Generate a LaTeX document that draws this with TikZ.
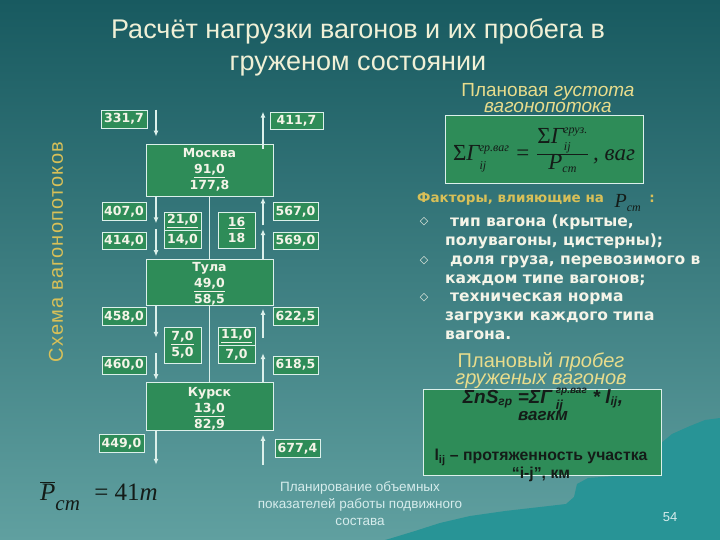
\documentclass[tikz,border=0pt]{standalone}
\usepackage{fontspec}
\setmainfont{Liberation Sans}
\newfontfamily\verd{DejaVu Sans}
\newfontfamily\fserif{Liberation Serif}
\newfontfamily\widesans[LetterSpace=6]{Liberation Sans}
\usetikzlibrary{arrows.meta,positioning}
\definecolor{bgtop}{RGB}{24,90,96}
\definecolor{bgbot}{RGB}{96,160,160}
\definecolor{mount}{RGB}{40,148,150}
\definecolor{boxgreen}{RGB}{46,140,88}
\definecolor{boxline}{RGB}{220,240,235}
\definecolor{boxtxt}{RGB}{244,244,232}
\definecolor{titletxt}{RGB}{240,240,214}
\definecolor{headtxt}{RGB}{232,220,140}
\definecolor{goldtxt}{RGB}{216,192,88}
\definecolor{foottxt}{RGB}{214,236,236}
\definecolor{formtxt}{RGB}{20,28,24}
\newcommand{\fsi}[1]{\mbox{\fserif\itshape #1}}
\newcommand{\fss}[1]{\mbox{\fserif\itshape\fontsize{12}{12}\selectfont #1}}
\newcommand{\fsl}[1]{\raisebox{-3pt}{\fserif\itshape\fontsize{12}{12}\selectfont #1}}
\tikzset{
  valbox/.style={draw=boxline, fill=boxgreen, line width=0.8pt, inner sep=0pt,
    minimum width=45pt, minimum height=18pt, text=boxtxt, align=center,
    font=\verd\bfseries\fontsize{12.5}{16}\selectfont},
  citybox/.style={valbox, minimum width=127pt, minimum height=45pt},
  smallbox/.style={valbox, minimum width=37pt},
  flow/.style={draw=boxline, line width=1.4pt, -{Latex[length=6pt,width=5pt]}},
  link/.style={draw=boxline, line width=0.8pt},
  frmbox/.style={draw=boxline, fill=boxgreen, line width=1pt, inner sep=0pt},
}
\begin{document}
\begin{tikzpicture}[x=1pt, y=-1pt]
\useasboundingbox (0,0) rectangle (720,540);
\fill[top color=bgtop, bottom color=bgbot] (0,0) rectangle (720,540);
\fill[mount] (720,418) -- (705,420) -- (690,426) -- (672,434) -- (660,444) -- (652,458) -- (640,470)
  -- (615,476) -- (588,478) -- (577,484) -- (574,497) -- (566,504) -- (540,507) -- (505,511)
  -- (470,516) -- (440,523) -- (415,531) -- (392,538) -- (385,540) -- (720,540) -- cycle;

\node[text=titletxt, font=\fontsize{27}{32}\selectfont, align=center] (title) at (358,47)
  {Расчёт нагрузки вагонов и их пробега в\\груженом состоянии};
\node[rotate=90, text=goldtxt, font=\widesans\fontsize{20}{20}\selectfont] (schema) at (56,252) {Схема вагонопотоков};

\coordinate (L) at (156,0);
\coordinate (R) at (263,0);

\node[citybox, minimum height=52pt] (moscow) at (209.5,170) {Москва\\\underline{91,0}\\177,8};
\node[citybox] (tula) at (209.5,282.5) {\rule{0pt}{12pt}Тула\\\underline{49,0}\\58,5};
\node[citybox] (kursk) at (209.5,406.5) {\rule{0pt}{14pt}Курск\\\underline{13,0}\\82,9};

\node[valbox, minimum width=46pt] (v3317) at (124,119) {331,7};
\node[valbox, minimum width=53pt, minimum height=17pt] (v4117) at (296.5,120.5) {411,7};
\node[valbox, minimum width=44pt] (v4070) at (124,211.5) {407,0};
\node[valbox, minimum width=44pt, minimum height=17pt] (v4140) at (124,240.5) {414,0};
\node[valbox] (v5670) at (295.5,211.5) {567,0};
\node[valbox, minimum height=17pt] (v5690) at (295.5,240.5) {569,0};
\node[valbox, minimum width=44pt] (v4580) at (124,316.5) {458,0};
\node[valbox, minimum width=44pt] (v4600) at (124,365) {460,0};
\node[valbox] (v6225) at (295.5,316.5) {622,5};
\node[valbox] (v6185) at (295.5,365) {618,5};
\node[valbox] (v4490) at (121.5,443.5) {449,0};
\node[valbox] (v6774) at (297.5,448.5) {677,4};

\node[smallbox] (r210) at (182.5,221) {\underline{21,0}};
\node[smallbox, below=0pt of r210] (r140) {14,0};
\node[smallbox, minimum height=36pt] (r16) at (236.5,230) {\underline{16}\\18};
\node[smallbox, minimum height=36pt] (r70) at (182.5,345) {\underline{7,0}\\5,0};
\node[smallbox] (r110) at (236.5,336) {\underline{11,0}};
\node[smallbox, below=0pt of r110] (r700) {7,0};

\draw[link] (moscow.south) -- (tula.north);
\draw[link] (tula.south) -- (kursk.north);

\draw[flow] (v3317.north -| L) -- ++(0,27);
\draw[flow] (moscow.south -| L) -- ++(0,27);
\draw[flow] ([yshift=30pt]tula.north -| L) -- ([yshift=3pt]tula.north -| L);
\draw[flow] (tula.south -| L) -- ++(0,32);
\draw[flow] ([yshift=29pt]kursk.north -| L) -- ([yshift=2pt]kursk.north -| L);
\draw[flow] (kursk.south -| L) -- ++(0,34);

\draw[flow] ([yshift=-5pt]moscow.north -| R) -- (v4117.north -| R);
\draw[flow] ([yshift=-29pt]moscow.south -| R) -- ([yshift=-1pt]moscow.south -| R);
\draw[flow] (tula.north -| R) -- ++(0,-30);
\draw[flow] ([yshift=-32pt]tula.south -| R) -- ([yshift=-3pt]tula.south -| R);
\draw[flow] (kursk.north -| R) -- ++(0,-29);
\draw[flow] ([yshift=-34pt]kursk.south -| R) -- ([yshift=-4pt]kursk.south -| R);

\node[anchor=base west, inner sep=0pt, text=formtxt, font=\fserif\fontsize{25}{25}\selectfont] (pst) at (40,500)
  {$\overline{\fsi{P}}_{\raisebox{-7pt}{\fserif\itshape\fontsize{21}{21}\selectfont ст}}\;\;\mbox{= 41\textit{т}}$};

\node[text=headtxt, font=\fontsize{19}{16}\selectfont, align=center] (gust) at (548,98)
  {Плановая \textit{густота}\\\textit{вагонопотока}};
\node[frmbox, minimum width=198pt, minimum height=68pt, text=formtxt,
  font=\fserif\fontsize{23}{24}\selectfont] (gustf) at (544,150)
  {$\mbox{Σ}\fsi{Γ}^{\fss{гр.ваг}}_{\fsl{ij}}\;\mbox{=}\;
   \frac{\mbox{Σ}\fsi{Γ}^{\fss{груз.}}_{\fsl{ij}}}{\fsi{P}_{\fss{ст}}}\,\fsi{, ваг}$};

\node[anchor=base west, inner sep=0pt, text=goldtxt, font=\verd\bfseries\fontsize{13.5}{13.5}\selectfont]
  (fact) at (417,203) {Факторы, влияющие на};
\node[text=formtxt, font=\fserif\fontsize{20}{20}\selectfont] (factp) at (628,203) {$\fsi{P}_{\fss{ст}}$};
\node[anchor=base, inner sep=0pt, text=goldtxt, font=\verd\bfseries\fontsize{13.5}{13.5}\selectfont]
  (factc) at (652,203) {:};
\node[anchor=base, text=boxtxt, font=\verd\fontsize{11}{11}\selectfont] (b1) at (424,225) {◇};
\node[anchor=base, text=boxtxt, font=\verd\fontsize{11}{11}\selectfont] (b2) at (424,263) {◇};
\node[anchor=base, text=boxtxt, font=\verd\fontsize{11}{11}\selectfont] (b3) at (424,300) {◇};
\node[anchor=north west, align=left, inner sep=0pt, text=boxtxt,
  font=\verd\bfseries\fontsize{15.5}{18.7}\selectfont] (facts) at (445,215)
  {\hspace{5pt}тип вагона (крытые,\\полувагоны, цистерны);\\\hspace{5pt}доля груза, перевозимого в\\
   каждом типе вагонов;\\\hspace{5pt}техническая норма\\загрузки каждого типа\\вагона.};

\node[text=headtxt, font=\fontsize{20}{17}\selectfont, align=center] (probeg) at (541,371)
  {Плановый \textit{пробег}\\\textit{груженых вагонов}};
\node[frmbox, minimum width=238pt, minimum height=86pt] (probbox) at (542,432) {};
\node[anchor=base, inner sep=0pt, text=formtxt, font=\bfseries\itshape\fontsize{19}{19}\selectfont] (probf) at (543,403)
  {$\mbox{ΣnS}_{\mbox{\fontsize{12}{12}\selectfont гр}}\mbox{ =ΣΓ}^{\;\raisebox{2pt}{\fontsize{10}{10}\selectfont гр.ваг}}_{\;\raisebox{-2pt}{\fontsize{13}{13}\selectfont ij}}\mbox{ * l}_{\mbox{\fontsize{12}{12}\selectfont ij}}\mbox{,}$};
\node[anchor=base, inner sep=0pt, text=formtxt, font=\bfseries\itshape\fontsize{17}{17}\selectfont] (probu) at (543,420) {вагкм};
\node[anchor=base, inner sep=0pt, text=formtxt, font=\bfseries\fontsize{15.8}{18}\selectfont, align=center] (lij) at (541,478)
  {l\textsubscript{ij} – протяженность участка\\“i-j”, км};

\node[text=foottxt, font=\fontsize{13.5}{17}\selectfont, align=center] (foot) at (360,504)
  {Планирование объемных\\показателей работы подвижного\\состава};
\node[text=foottxt, font=\fontsize{13}{13}\selectfont] (page) at (670,517) {54};
\end{tikzpicture}
\end{document}
